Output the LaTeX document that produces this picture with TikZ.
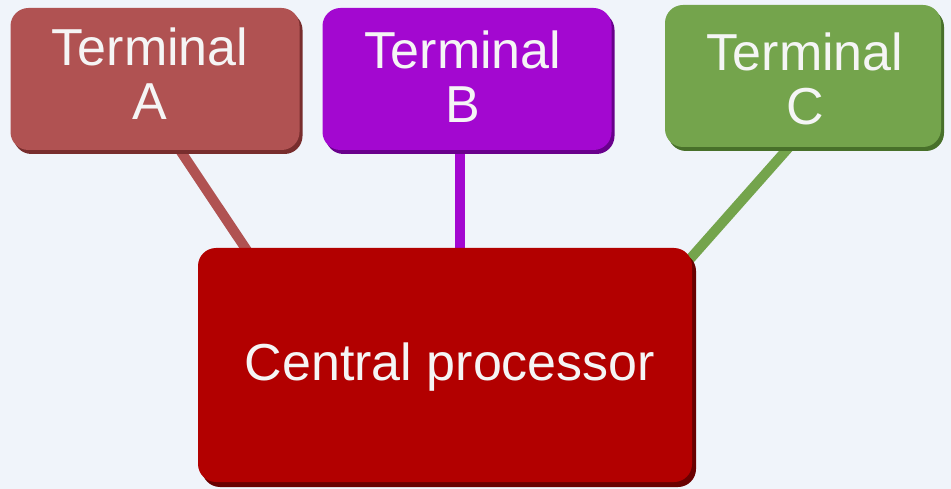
\documentclass[tikz,border=0pt]{standalone}
\usepackage{fontspec}
\setmainfont{Liberation Sans}
\usetikzlibrary{calc,shadows,backgrounds}
\definecolor{bg}{RGB}{240,244,250}
\definecolor{colA}{RGB}{176,82,82}
\definecolor{colAd}{RGB}{120,45,45}
\definecolor{colB}{RGB}{163,8,208}
\definecolor{colBd}{RGB}{105,0,140}
\definecolor{colC}{RGB}{116,164,76}
\definecolor{colCd}{RGB}{72,112,42}
\definecolor{colP}{RGB}{178,0,0}
\definecolor{colPd}{RGB}{105,0,0}
\definecolor{txtc}{RGB}{245,245,245}
\tikzset{
  box/.style={rectangle, rounded corners=18pt, inner sep=0pt},
  txt/.style={text=txtc, align=center, font=\fontsize{52}{54}\selectfont, inner sep=0pt},
  conn/.style={line width=10pt},
}
\begin{document}
\begin{tikzpicture}[x=1pt,y=1pt]
\useasboundingbox (0,0) rectangle (951,-489);
% boxes
\node[box, fill=colA, minimum width=289, minimum height=142,
  general shadow={fill=colAd, shadow xshift=3pt, shadow yshift=-4pt}] (a) at (155,-79) {};
\node[box, fill=colB, minimum width=289, minimum height=142,
  general shadow={fill=colBd, shadow xshift=3pt, shadow yshift=-4pt}] (b) at (467,-79) {};
\node[box, fill=colC, minimum width=276, minimum height=142,
  general shadow={fill=colCd, shadow xshift=3pt, shadow yshift=-4pt}] (c) at (803,-76) {};
\node[box, fill=colP, minimum width=494, minimum height=234,
  general shadow={fill=colPd, shadow xshift=4pt, shadow yshift=-5pt}] (p) at (445,-365) {};
% texts
\node[txt] (ta) at (150,-74) {Terminal\\A};
\node[txt] (tb) at (463,-77) {Terminal\\B};
\node[txt] (tc) at (805,-79) {Terminal\\C};
\node[txt] (tp) at (450,-367) {Central processor};
% connectors
\coordinate (a1) at ($(a.south)+(25,0)$);
\coordinate (a2) at ($(p.north west)+(50,-4)$);
\coordinate (b1) at ($(b.south)+(-7,0)$);
\coordinate (b2) at ($(p.north)+(15,-4)$);
\coordinate (c1) at ($(c.south)+(-14,0)$);
\coordinate (c2) at ($(p.north east)+(-10,-20)$);
\begin{scope}[on background layer]
\fill[bg] (0,0) rectangle (951,-489);
\draw[conn, colA] (a1) -- (a2);
\draw[conn, colB] (b1) -- (b1 |- b2);
\draw[conn, colC] (c1) -- (c2);
\end{scope}
\end{tikzpicture}
\end{document}
